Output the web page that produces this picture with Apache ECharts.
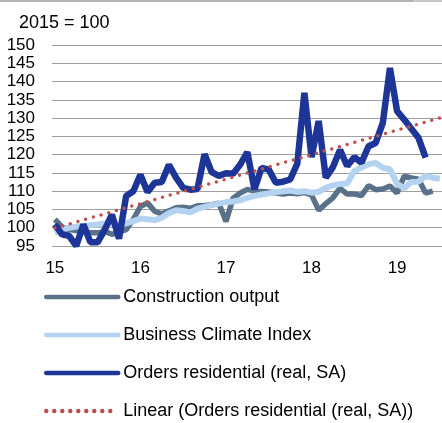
<!DOCTYPE html>
<html>
<head>
<meta charset="utf-8">
<script src="https://cdn.jsdelivr.net/npm/echarts@6/dist/echarts.min.js"></script>
<style>
  html, body { margin: 0; padding: 0; background: #fff; }
  #chart { width: 442px; height: 423px; }
</style>
</head>
<body>
<div id="chart"></div>
<script>
// monthly data, index 0 = Jan 2015
const yearLabels = ['15', '16', '17', '18', '19']
const yearTicks = [0, 12, 24, 36, 48]

const constructionOutput = [
  102.3, 100.2, 99.5, 99.2, 98.8, 98.6, 98.6, 99.0, 98.2, 98.8, 99.5, 102.3,
  105.8, 106.8, 104.5, 103.8, 104.6, 105.5, 105.6, 105.3, 106.0, 106.1, 106.3, 106.7,
  101.7, 108.1, 109.5, 110.5, 110.0, 109.9, 109.8, 109.5, 109.2, 109.5, 109.3, 109.6,
  109.0, 104.8, 106.6, 108.2, 110.8, 109.2, 109.2, 108.8, 111.5, 110.4, 110.6, 111.4,
  109.5, 114.1, 113.6, 113.3, 109.5, 110.0
]
const businessClimate = [
  98.6, 99.4, 100.0, 100.3, 100.5, 100.7, 100.9, 101.2, 101.2, 100.9, 101.2, 101.8,
  102.5, 102.3, 102.1, 102.7, 104.0, 104.8, 104.6, 104.2, 105.2, 105.7, 106.2, 106.6,
  107.0, 107.2, 107.5, 108.2, 108.7, 109.1, 109.4, 109.7, 110.0, 110.2, 109.8, 110.0,
  109.6, 109.8, 110.9, 111.6, 112.0, 112.1, 115.5, 116.5, 117.4, 117.7, 116.4, 116.0,
  112.0, 110.8, 112.5, 112.6, 114.2, 113.7, 113.4
]
const ordersResidential = [
  100.9, 98.2, 97.8, 95.0, 100.9, 96.0, 96.0, 99.5, 103.6, 97.0, 108.7, 110.0,
  114.5, 109.8, 112.3, 112.5, 117.2, 113.7, 110.9, 110.4, 110.6, 120.1, 115.2, 114.2,
  114.9, 114.8, 117.3, 120.7, 110.5, 116.4, 115.9, 112.3, 112.6, 113.2, 117.5, 136.9,
  119.3, 129.2, 113.7, 116.6, 121.3, 116.9, 119.3, 117.8, 122.3, 123.2, 128.7, 143.7,
  131.9, 129.6, 127.1, 124.6, 119.2
]
// linear trend of orders, end points
const trendX = [0, 54.3]
const trendY = [99.9, 130.2]

const seriesNames = ['Construction output', 'Business Climate Index', 'Orders residential (real, SA)', 'Linear (Orders residential (real, SA))']
const seriesColors = ['#5a7289', '#b4d3f0', '#1c3596', '#c0504d']

const toPairs = arr => arr.map((v, i) => [i, v])

const font = 'Liberation Sans, Arial, sans-serif'
const chart = echarts.init(document.getElementById('chart'))

chart.setOption({
  animation: false,
  color: seriesColors,
  textStyle: { fontFamily: font },
  title: {
    text: '2015 = 100', left: 14, top: 9,
    textStyle: { fontSize: 18, fontWeight: 'normal', color: '#000', fontFamily: font }
  },
  graphic: [{
    type: 'line', shape: { x1: 0, y1: 1, x2: 413, y2: 1 },
    style: { stroke: '#9a9a9a', lineWidth: 1.5 }
  }, {
    type: 'rect', shape: { x: 413, y: 0, width: 29, height: 2 },
    style: { fill: '#c8c8c8' }
  }],
  legend: {
    orient: 'vertical', left: 44, top: 287, height: 136, padding: 0,
    itemWidth: 72, itemHeight: 20, itemGap: 18,
    textStyle: { fontSize: 18, lineHeight: 20, color: '#000', fontFamily: font },
    itemStyle: { opacity: 0 },
    lineStyle: { width: 4.5, cap: 'round' },
    data: seriesNames
  },
  grid: { left: 52, right: 0, top: 45, bottom: 177 },
  xAxis: {
    type: 'value', min: -0.4, max: 54.3,
    axisLine: { show: false }, axisTick: { show: false }, splitLine: { show: false },
    axisLabel: {
      customValues: yearTicks, margin: 14, fontSize: 17, color: '#000',
      formatter: v => yearLabels[yearTicks.indexOf(v)]
    }
  },
  yAxis: {
    type: 'value', min: 95, max: 150, interval: 5,
    axisLine: { show: false }, axisTick: { show: false },
    axisLabel: { fontSize: 17, color: '#000', margin: 17 },
    splitLine: { lineStyle: { color: '#a0a0a0', width: 1 } }
  },
  series: [
    {
      name: seriesNames[0], type: 'line', symbol: 'none', showSymbol: false, data: toPairs(constructionOutput),
      lineStyle: { width: 5.5 }, emphasis: { disabled: true }, z: 2
    },
    {
      name: seriesNames[1], type: 'line', symbol: 'none', showSymbol: false, data: toPairs(businessClimate),
      lineStyle: { width: 6 }, emphasis: { disabled: true }, z: 3
    },
    {
      name: seriesNames[2], type: 'line', symbol: 'none', showSymbol: false, data: toPairs(ordersResidential),
      lineStyle: { width: 6.5 }, emphasis: { disabled: true }, z: 4
    },
    {
      name: seriesNames[3], type: 'line', symbol: 'none', showSymbol: false,
      data: trendX.map((x, i) => [x, trendY[i]]),
      lineStyle: { width: 3.5, type: [0, 8], cap: 'round' }, emphasis: { disabled: true }, z: 5
    }
  ]
})
</script>
</body>
</html>
